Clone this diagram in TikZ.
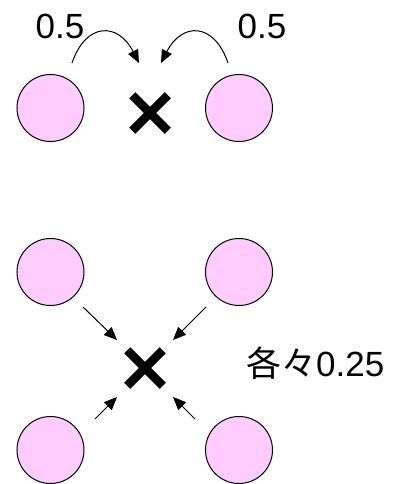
\documentclass[tikz,border=0pt]{standalone}
\usepackage{fontspec}
\setmainfont{Liberation Sans}
\newfontfamily\cjkfont{Noto Sans CJK JP}
\usetikzlibrary{arrows.meta,shapes.misc}
\begin{document}
\begin{tikzpicture}[x=1pt,y=-1pt,
  ball/.style={circle,draw=black,line width=1pt,fill=pinkfill,minimum size=67pt,inner sep=0pt},
  xmark/.style={cross out,draw=black,line width=8.5pt,minimum size=27pt,inner sep=0pt},
  lbl/.style={font=\fontsize{35}{40}\selectfont,inner sep=0pt},
  arr/.style={line width=1pt,-{Triangle[length=13pt,width=11pt]}}]
\definecolor{pinkfill}{HTML}{FFCCFF}
\useasboundingbox (0,0) rectangle (396,484);
% top group
\node[ball] (tl) at (50.5,108) {};
\node[ball] (tr) at (239,108) {};
\node[xmark] (tx) at (150,113) {};
\node[lbl] (t1) at (60,26) {0.5};
\node[lbl] (t2) at (262,26) {0.5};
\coordinate (ls) at (72,63);
\coordinate (le) at (139,63);
\coordinate (rs) at (228,63);
\coordinate (re) at (161,63);
\draw[arr] (ls) .. controls (86,22) and (118,22) .. (le);
\draw[arr] (rs) .. controls (214,22) and (182,22) .. (re);
% bottom group
\node[ball] (a) at (50.5,272) {};
\node[ball] (b) at (239,272) {};
\node[ball] (c) at (50.5,450) {};
\node[ball] (d) at (239,450) {};
\node[xmark] (bx) at (145,368) {};
\node[lbl,anchor=west] (q) at (246,363) {\cjkfont 各々\rmfamily 0.25};
\coordinate (a1) at (83,307);
\coordinate (a2) at (117,340);
\coordinate (b1) at (206,307);
\coordinate (b2) at (173,340);
\coordinate (c1) at (95,419);
\coordinate (c2) at (117,397);
\coordinate (d1) at (195,419);
\coordinate (d2) at (173,397);
\draw[arr] (a1) -- (a2);
\draw[arr] (b1) -- (b2);
\draw[arr] (c1) -- (c2);
\draw[arr] (d1) -- (d2);
\end{tikzpicture}
\end{document}
